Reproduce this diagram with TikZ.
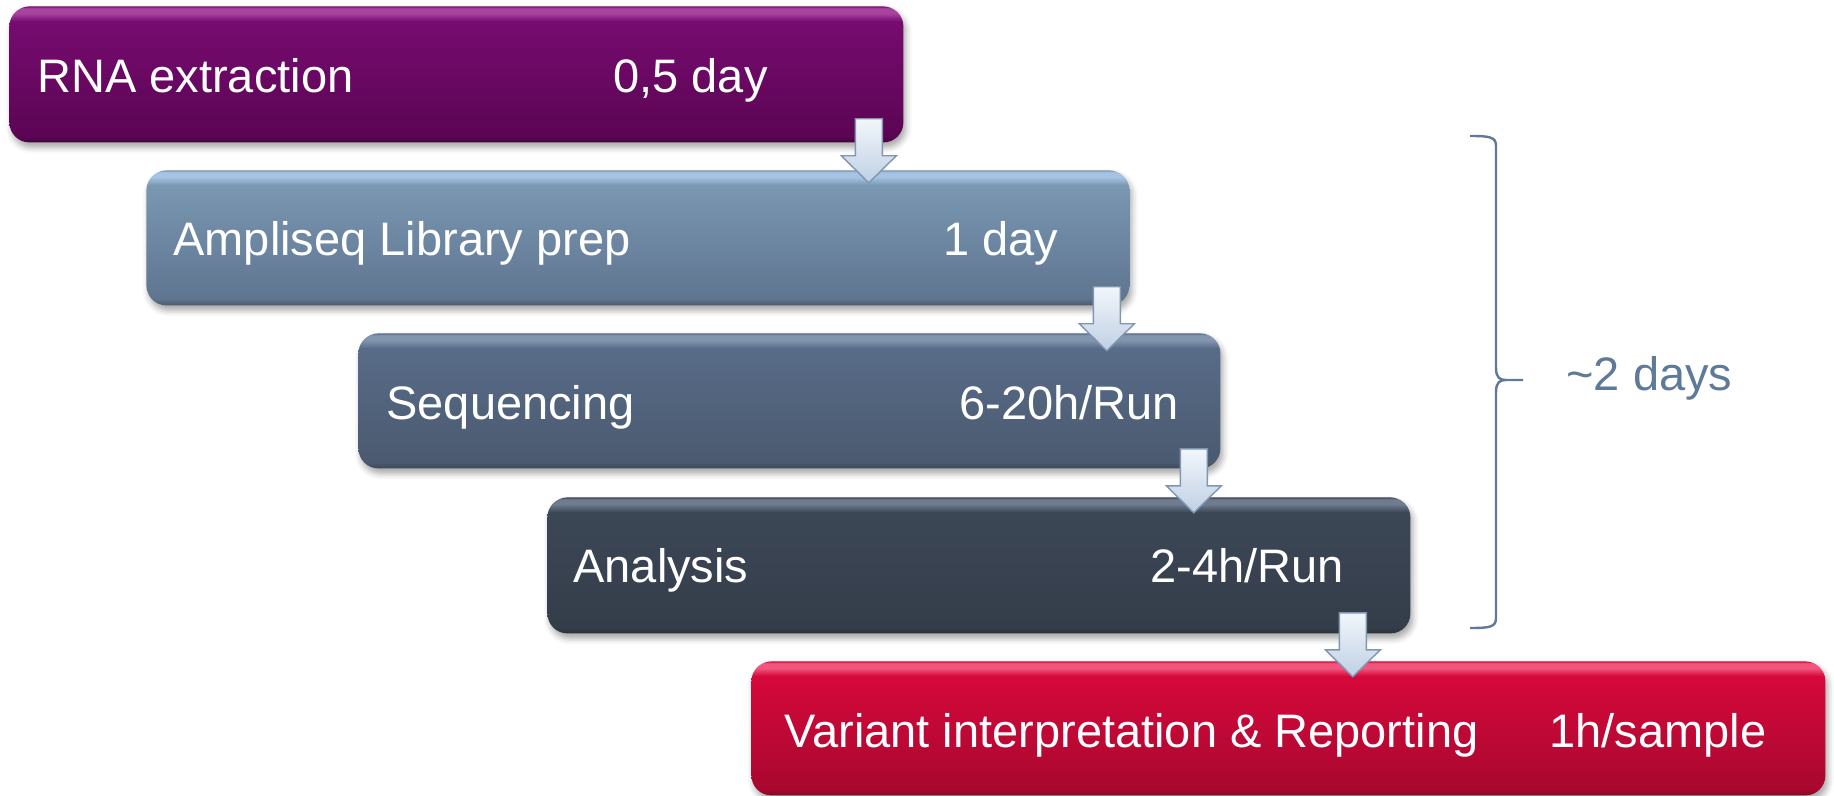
\documentclass[tikz,border=0pt]{standalone}
\usepackage{fontspec}
\setmainfont{Liberation Sans}
\usetikzlibrary{calc,shadows.blur}

% colour sets for the glossy step boxes: highlight, top, bottom, bottom edge
\definecolor{rnaHl}{HTML}{A8449E}\definecolor{rnaTop}{HTML}{760B70}
\definecolor{rnaBot}{HTML}{5C0554}\definecolor{rnaEdge}{HTML}{470340}
\definecolor{libHl}{HTML}{A6C3E3}\definecolor{libTop}{HTML}{7A97B2}
\definecolor{libBot}{HTML}{5F7590}\definecolor{libEdge}{HTML}{4B5B6E}
\definecolor{seqHl}{HTML}{8296B0}\definecolor{seqTop}{HTML}{586B88}
\definecolor{seqBot}{HTML}{4B5A70}\definecolor{seqEdge}{HTML}{3D4A5C}
\definecolor{anaHl}{HTML}{6E7C8E}\definecolor{anaTop}{HTML}{3C4756}
\definecolor{anaBot}{HTML}{343D4A}\definecolor{anaEdge}{HTML}{2A323C}
\definecolor{repHl}{HTML}{F2557E}\definecolor{repTop}{HTML}{D6083C}
\definecolor{repBot}{HTML}{A8082E}\definecolor{repEdge}{HTML}{8E0626}
\definecolor{braceBlue}{HTML}{5F7A98}
\definecolor{arrTop}{HTML}{F2F6FB}\definecolor{arrBot}{HTML}{BFD0E4}
\definecolor{arrLine}{HTML}{7F96B0}

% vertical gloss: 25bp = bottom of the box, 75bp = top of the box
\newcommand{\glossshade}[1]{%
  \pgfdeclareverticalshading{#1gloss}{100bp}{%
    color(0bp)=(#1Edge); color(25bp)=(#1Edge); color(27.5bp)=(#1Bot);
    color(69.5bp)=(#1Top); color(72.5bp)=(#1Hl); color(74.3bp)=(#1Hl);
    color(75bp)=(#1Top); color(100bp)=(#1Top)}}
\glossshade{rna}\glossshade{lib}\glossshade{seq}\glossshade{ana}\glossshade{rep}

\tikzset{
  stepbox/.style={rounded corners=10pt, inner sep=0pt, anchor=north west,
    shading=#1gloss, shading angle=0,
    blur shadow={shadow xshift=1.2pt, shadow yshift=-2.5pt,
      shadow blur radius=3pt, shadow opacity=35}},
  steptext/.style={inner sep=0pt, anchor=base west, text=white,
    font=\fontsize{23.5}{28}\selectfont},
  blockarrow/.style={top color=arrTop, bottom color=arrBot, draw=arrLine,
    line width=0.7pt, line join=miter},
  bracestyle/.style={draw=braceBlue, line width=1.2pt},
}

\newcommand{\downblock}[1]{%
  \path[blockarrow] (#1) ++(-13.5,0) -- ++(27,0) -- ++(0,37) -- ++(14,0)
    -- ++(-27.5,27) -- ++(-27.5,-27) -- ++(14,0) -- cycle;}

\begin{document}
\begin{tikzpicture}[x=0.5pt, y=-0.5pt]
\useasboundingbox (0,0) rectangle (1834,796);

% process steps
\node[stepbox=rna, minimum width=447pt,   minimum height=68pt]   (rna) at (9,6)     {};
\node[stepbox=lib, minimum width=491.5pt, minimum height=67.5pt] (lib) at (146,170) {};
\node[stepbox=seq, minimum width=431pt,   minimum height=67.5pt] (seq) at (358,333) {};
\node[stepbox=ana, minimum width=431.5pt, minimum height=68pt]   (ana) at (547,497) {};
\node[stepbox=rep, minimum width=537pt,   minimum height=67pt]   (rep) at (751,661) {};

% step names and durations
\node[steptext] (rnaName) at (37,93)   {RNA extraction};
\node[steptext] (rnaTime) at (613,93)  {0,5 day};
\node[steptext] (libName) at (173,256) {Ampliseq Library prep};
\node[steptext] (libTime) at (943,256) {1 day};
\node[steptext] (seqName) at (386,419) {Sequencing};
\node[steptext] (seqTime) at (959,419) {6-20h/Run};
\node[steptext] (anaName) at (573,582) {Analysis};
\node[steptext] (anaTime) at (1150,582){2-4h/Run};
\node[steptext] (repName) at (784,747) {Variant interpretation \& Reporting};
\node[steptext] (repTime) at (1549,747){1h/sample};

% block arrows from each step into the next
\coordinate (a1) at ($(rna.south east)+(-35,-24)$);
\coordinate (a2) at ($(lib.south east)+(-23,-19)$);
\coordinate (a3) at ($(seq.south east)+(-27,-20)$);
\coordinate (a4) at ($(ana.south east)+(-58,-21)$);
\downblock{a1}\downblock{a2}\downblock{a3}\downblock{a4}

% brace grouping the middle steps
\coordinate (bTop) at (1470,136);
\coordinate (bTip) at (1523,380);
\coordinate (bBot) at (1470,628);
\draw[bracestyle] (bTop) .. controls (1490,136) and (1496,137) .. (1496,146)
  -- (1496,368) .. controls (1496,378) and (1500,380) .. (1506,380) -- (bTip)
  (1506,380) .. controls (1500,380) and (1496,382) .. (1496,392)
  -- (1496,618) .. controls (1496,627) and (1490,628) .. (bBot);
\node[steptext, text=braceBlue] (total) at (1566,390) {\textasciitilde2 days};
\end{tikzpicture}
\end{document}
